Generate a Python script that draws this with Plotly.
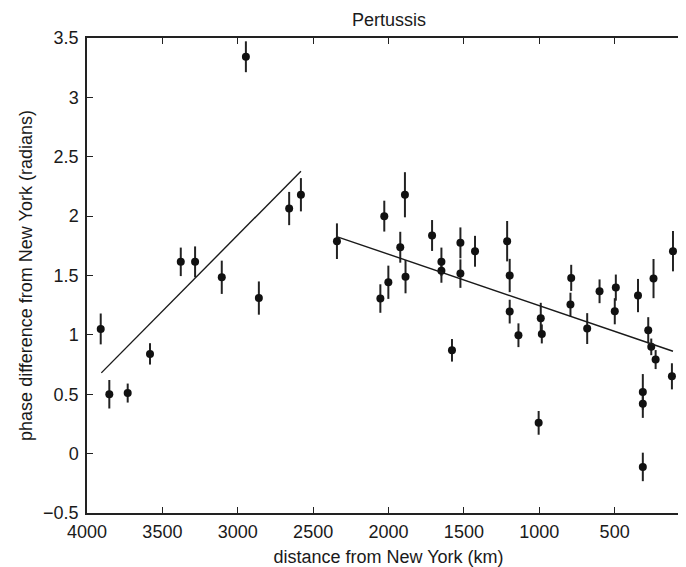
import plotly.graph_objects as go

# ---- data ----
west_dist = [3909, 3852, 3730, 3582, 3378, 3283, 3106, 2946, 2860, 2659, 2581]
west_phase = [1.05, 0.50, 0.51, 0.84, 1.615, 1.615, 1.485, 3.342, 1.31, 2.064, 2.18]
west_err = [0.13, 0.12, 0.08, 0.09, 0.12, 0.13, 0.14, 0.13, 0.14, 0.14, 0.14]

east_dist = [2342, 2054, 2028, 2001, 1922, 1891, 1887, 1711, 1649, 1649, 1579,
             1523, 1523, 1426, 1213, 1196, 1196, 1138, 1004, 990, 983, 793, 788,
             682, 600, 499, 492, 345, 313, 313, 313, 277, 257, 242, 228, 120, 113]
east_phase = [1.789, 1.306, 2.00, 1.443, 1.738, 2.18, 1.49, 1.837, 1.615, 1.539, 0.87,
              1.775, 1.516, 1.704, 1.789, 1.50, 1.196, 0.997, 0.259, 1.14, 1.008, 1.255, 1.48,
              1.053, 1.367, 1.199, 1.398, 1.331, 0.52, 0.421, -0.112, 1.039, 0.899, 1.474, 0.792, 0.651, 1.705]
east_err = [0.15, 0.12, 0.13, 0.14, 0.13, 0.19, 0.14, 0.13, 0.12, 0.10, 0.095,
            0.13, 0.12, 0.13, 0.17, 0.14, 0.10, 0.10, 0.10, 0.13, 0.08, 0.10, 0.11,
            0.13, 0.10, 0.11, 0.11, 0.14, 0.15, 0.12, 0.12, 0.11, 0.07, 0.165, 0.08, 0.11, 0.17]

fit_west_x = [3905, 2581]
fit_west_y = [0.68, 2.378]
fit_east_x = [2339, 113]
fit_east_y = [1.826, 0.862]

x_ticks = [4000, 3500, 3000, 2500, 2000, 1500, 1000, 500, 0]
y_ticks = [-0.5, 0, 0.5, 1, 1.5, 2, 2.5, 3, 3.5]
y_tick_text = ["\u22120.5", "0", "0.5", "1", "1.5", "2", "2.5", "3", "3.5"]

FONT = "Liberation Sans, Arial, Helvetica, sans-serif"
INK = "#111111"

fig = go.Figure()
for xs, ys, es in [(west_dist, west_phase, west_err), (east_dist, east_phase, east_err)]:
    fig.add_trace(go.Scatter(
        x=xs, y=ys, mode="markers",
        marker=dict(color=INK, size=8, line=dict(width=0)),
        error_y=dict(type="data", array=es, visible=True, color="#222222", thickness=2, width=0),
        showlegend=False, hoverinfo="x+y",
    ))
for xs, ys in [(fit_west_x, fit_west_y), (fit_east_x, fit_east_y)]:
    fig.add_trace(go.Scatter(
        x=xs, y=ys, mode="lines",
        line=dict(color="#1a1a1a", width=1.4),
        showlegend=False, hoverinfo="skip",
    ))

fig.update_layout(
    width=686, height=567,
    margin=dict(l=79, r=4, t=30, b=62, autoexpand=False),
    paper_bgcolor="white", plot_bgcolor="white",
    font=dict(family=FONT, size=18, color="#1a1a1a"),
    title=dict(text="Pertussis", x=0.5554, xanchor="center", y=0.979, yanchor="middle",
               font=dict(family=FONT, size=18, color="#1a1a1a")),
    xaxis=dict(
        range=[4000, 0], tickvals=x_ticks, ticks="inside", ticklen=6, tickwidth=1,
        tickcolor="#222222", showline=True, linecolor="#222222", linewidth=1.5,
        mirror="ticks", showgrid=False, zeroline=False, automargin=False,
        title=dict(text="distance from New York (km)", standoff=9,
                   font=dict(family=FONT, size=18)),
        tickfont=dict(family=FONT, size=18), ticklabelstandoff=2,
    ),
    yaxis=dict(
        range=[-0.5, 3.5], tickvals=y_ticks, ticktext=y_tick_text, ticks="inside",
        ticklen=6, tickwidth=1, tickcolor="#222222", showline=True, linecolor="#222222",
        linewidth=1.5, mirror="ticks", showgrid=False, zeroline=False, automargin=False,
        title=dict(text="phase difference from New York (radians)", standoff=6,
                   font=dict(family=FONT, size=18)),
        tickfont=dict(family=FONT, size=18), ticklabelstandoff=3,
    ),
)

fig.write_html("out.html")
